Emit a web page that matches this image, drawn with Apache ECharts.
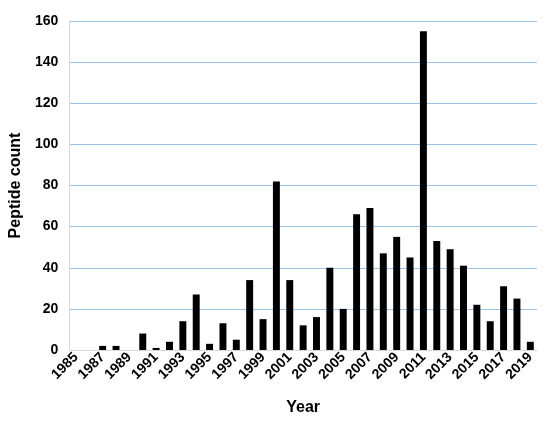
<!DOCTYPE html>
<html>
<head>
<meta charset="utf-8">
<script src="https://cdn.jsdelivr.net/npm/echarts@6/dist/echarts.min.js"></script>
<style>
body{margin:0;background:#fff;}
#chart{width:550px;height:423px;}
</style>
</head>
<body>
<div id="chart"></div>
<script>
var years = ['1985','1986','1987','1988','1989','1990','1991','1992','1993','1994',
	'1995','1996','1997','1998','1999','2000','2001','2002','2003','2004',
	'2005','2006','2007','2008','2009','2010','2011','2012','2013','2014',
	'2015','2016','2017','2018','2019'];
var counts = [0,0,2,2,0,8,1,4,14,27,
	3,13,5,34,15,82,34,12,16,40,
	20,66,69,47,55,45,155,53,49,41,
	22,14,31,25,4];

var chart = echarts.init(document.getElementById('chart'));
var option = {
	backgroundColor: '#ffffff',
	animation: false,
	textStyle: {fontFamily: 'Liberation Sans, Arial, sans-serif'},
	grid: {
		left: 67,
		right: 13,
		top: 21,
		bottom: 73
	},
	xAxis: {
		type: 'category',
		data: years,
		name: 'Year',
		nameLocation: 'middle',
		nameGap: 50,
		nameTextStyle: {fontSize: 16, fontWeight: 'bold', color: '#000'},
		axisLine: {lineStyle: {color: '#d9d9d9'}},
		axisTick: {show: false},
		axisLabel: {
			interval: 1,
			rotate: 45,
			fontSize: 14,
			fontWeight: 'bold',
			color: '#000',
			margin: 5
		}
	},
	yAxis: {
		type: 'value',
		min: 0,
		max: 160,
		interval: 20,
		name: 'Peptide count',
		nameLocation: 'middle',
		nameGap: 42,
		nameTextStyle: {fontSize: 16, fontWeight: 'bold', color: '#000'},
		axisLine: {show: true, lineStyle: {color: '#d9d9d9'}},
		axisTick: {show: false},
		axisLabel: {fontSize: 14, fontWeight: 'bold', color: '#000', margin: 11},
		splitLine: {lineStyle: {color: '#9dc3e6', width: 1}}
	},
	series: [{
		type: 'bar',
		data: counts,
		barWidth: '52%',
		itemStyle: {color: '#000000'}
	}]
};
chart.setOption(option);
</script>
</body>
</html>
